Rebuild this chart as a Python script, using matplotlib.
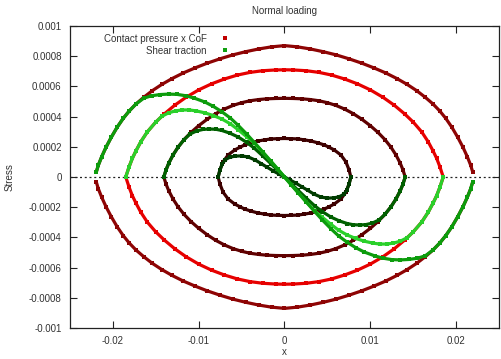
import numpy as np
import matplotlib.pyplot as plt
from matplotlib.lines import Line2D

# Contact pressure x CoF, upper half (x <= 0), mirrored for x > 0 and negative side
p1_x = [-0.00773, -0.00753, -0.00715, -0.00657, -0.0058, -0.0052, -0.00465, -0.0039,
        -0.00311, -0.0023, -0.00158, -0.0008, 0.0]
p1_y = [0.0, 0.000046, 0.000101, 0.000146, 0.000179, 0.000197, 0.000212, 0.000226,
        0.000238, 0.000246, 0.000252, 0.000254, 0.000255]

p2_x = [-0.01407, -0.0138, -0.0135, -0.013, -0.0124, -0.0117, -0.0109, -0.01, -0.009,
        -0.008, -0.007, -0.006, -0.005, -0.004, -0.003, -0.002, -0.001, 0.0]
p2_y = [0.0, 0.000048, 0.00009, 0.000145, 0.000198, 0.000248, 0.000295, 0.00034, 0.000383,
        0.00042, 0.00045, 0.000474, 0.000492, 0.000505, 0.000513, 0.000518, 0.00052, 0.000521]

p3_x = [-0.01849, -0.01811, -0.01773, -0.01734, -0.01676, -0.016, -0.01503, -0.014,
        -0.0128, -0.0115, -0.01, -0.0085, -0.007, -0.0055, -0.004, -0.0025, -0.001, 0.0]
p3_y = [0.000002, 0.000068, 0.000124, 0.00017, 0.000232, 0.000298, 0.000362, 0.000418,
        0.000475, 0.000527, 0.000577, 0.000617, 0.000649, 0.000675, 0.000693, 0.000704,
        0.000709, 0.00071]

p4_x = [-0.02195, -0.0217, -0.0213, -0.0208, -0.0202, -0.0195, -0.0188, -0.0181, -0.0173,
        -0.0164, -0.0154, -0.0143, -0.0131, -0.0118, -0.0104, -0.009, -0.0075, -0.006,
        -0.0045, -0.003, -0.0015, 0.0]
p4_y = [0.00003, 0.000078, 0.000135, 0.000197, 0.000262, 0.00033, 0.000388, 0.000437,
        0.000484, 0.000528, 0.000572, 0.000613, 0.000652, 0.000689, 0.000723, 0.000754,
        0.000783, 0.000809, 0.00083, 0.000848, 0.000862, 0.00087]

# Shear traction, left half (antisymmetric about the origin)
q1_x = [-0.00773, -0.00753, -0.00725, -0.0069, -0.0064, -0.0058, -0.005, -0.0042,
        -0.0034, -0.0027, -0.002, -0.0013, -0.0006, 0.0]
q1_y = [0.0, 0.000046, 0.000088, 0.000115, 0.00013, 0.000138, 0.00014, 0.000132,
        0.000112, 0.000088, 0.000064, 0.00004, 0.000018, 0.0]

q2_x = [-0.01407, -0.0138, -0.0135, -0.013, -0.0124, -0.0117, -0.011, -0.0102, -0.0095,
        -0.0088, -0.008, -0.0073, -0.0064, -0.0054, -0.0044, -0.0035, -0.0025, -0.0016,
        -0.0008, 0.0]
q2_y = [0.0, 0.000048, 0.00009, 0.000145, 0.000198, 0.000248, 0.000285, 0.000306, 0.000315,
        0.000318, 0.000316, 0.000308, 0.000291, 0.000265, 0.000229, 0.00019, 0.000138, 0.000089,
        0.000045, 0.0]

q3_x = [-0.01849, -0.01811, -0.01773, -0.01734, -0.01676, -0.016, -0.01503, -0.0143,
        -0.0135, -0.0127, -0.0119, -0.0111, -0.0103, -0.0093, -0.0083, -0.0073,
        -0.0063, -0.0054, -0.0044, -0.0035, -0.0025, -0.0016, -0.0008, 0.0]
q3_y = [0.000002, 0.000068, 0.000124, 0.00017, 0.000232, 0.000298, 0.000362, 0.000402,
        0.000425, 0.000438, 0.000444, 0.000444, 0.000438, 0.000425, 0.000407, 0.000384,
        0.000352, 0.000313, 0.000266, 0.000224, 0.000163, 0.000105, 0.000053, 0.0]

q4_x = [-0.02195, -0.0217, -0.0213, -0.0208, -0.0202, -0.0195, -0.0188, -0.0181, -0.0173,
        -0.0164, -0.0155, -0.0145, -0.0135, -0.0125, -0.0115, -0.0105, -0.0093, -0.0083,
        -0.0073, -0.0063, -0.0054, -0.0044, -0.0035, -0.0025, -0.0016, -0.0008, 0.0]
q4_y = [0.00003, 0.000078, 0.000135, 0.000197, 0.000262, 0.00033, 0.000388, 0.000437, 0.000484,
        0.000522, 0.000538, 0.000546, 0.000549, 0.000547, 0.000538, 0.000522, 0.000497, 0.000468,
        0.000432, 0.00039, 0.000342, 0.000284, 0.000228, 0.000163, 0.000105, 0.000053, 0.0]

pressure = [(p1_x, p1_y), (p2_x, p2_y), (p3_x, p3_y), (p4_x, p4_y)]
shear = [(q1_x, q1_y), (q2_x, q2_y), (q3_x, q3_y), (q4_x, q4_y)]
red_cols = ['#3e0000', '#600000', '#e60000', '#8e0404']
green_cols = ['#003c00', '#006000', '#2ad02a', '#0c9c0c']

x_ticks = [-0.02, -0.01, 0, 0.01, 0.02]
x_labels = ['-0.02', '-0.01', '0', '0.01', '0.02']
y_ticks = [-0.001, -0.0008, -0.0006, -0.0004, -0.0002, 0, 0.0002, 0.0004, 0.0006, 0.0008, 0.001]
y_labels = ['-0.001', '-0.0008', '-0.0006', '-0.0004', '-0.0002', '0',
            '0.0002', '0.0004', '0.0006', '0.0008', '0.001']

txt = '#333333'
plt.rcParams['font.family'] = ['Liberation Sans', 'DejaVu Sans']
tick_font = ['Liberation Sans Narrow', 'Liberation Sans']

fig = plt.figure(figsize=(5.02, 3.59), dpi=100)
ax = fig.add_axes([70 / 502, 1 - 328 / 359, 429 / 502, 302 / 359])

ax.axhline(0, color='#222222', lw=0.9, ls=(0, (1.6, 2.2)), zorder=1)

sty = dict(lw=2.3, marker='s', ms=2.2, mew=0, solid_capstyle='butt')
for (px, py), c in zip(pressure, red_cols):
    px = np.array(px)
    py = np.array(py)
    xs = np.concatenate([px, -px[::-1][1:]])
    ys = np.concatenate([py, py[::-1][1:]])
    ax.plot(xs, ys, color=c, zorder=2, **sty)
    ax.plot(xs, -ys, color=c, zorder=2, **sty)

for (qx, qy), c in zip(shear, green_cols):
    qx = np.array(qx)
    qy = np.array(qy)
    xs = np.concatenate([qx, -qx[::-1][1:]])
    ys = np.concatenate([qy, -qy[::-1][1:]])
    ax.plot(xs, ys, color=c, zorder=3, **sty)

ax.set_xlim(-0.025, 0.025)
ax.set_ylim(-0.001, 0.001)
ax.set_xticks(x_ticks)
ax.set_xticklabels(x_labels, family=tick_font, fontsize=7, color=txt)
ax.set_yticks(y_ticks)
ax.set_yticklabels(y_labels, family=tick_font, fontsize=7, color=txt)
ax.tick_params(direction='in', length=5, width=0.8, top=True, right=True,
               color='#222222', pad=6)
for s in ax.spines.values():
    s.set_linewidth(0.9)
    s.set_color('#222222')

ax.set_title('Normal loading', fontsize=7, color=txt, pad=9)
ax.set_xlabel('x', fontsize=7, color=txt, va='baseline')
ax.xaxis.set_label_coords(0.5, -0.088)
ax.set_ylabel('Stress', fontsize=7, color=txt)
ax.yaxis.set_label_coords(-0.13, 0.5)

handles = [Line2D([], [], color='#c00000', marker='s', ls='none', ms=3, mew=0),
           Line2D([], [], color='#10a010', marker='s', ls='none', ms=3, mew=0)]
leg = ax.legend(handles, ['Contact pressure x CoF', 'Shear traction'],
                loc='upper right', bbox_to_anchor=(235 / 502, 1 - 29 / 359),
                bbox_transform=fig.transFigure, frameon=False, markerfirst=False,
                fontsize=7, handlelength=1.0, handletextpad=1.4,
                labelspacing=0.2, borderpad=0)
for t in leg.get_texts():
    t.set_color(txt)
    t.set_ha('right')

fig.savefig('out.png', dpi=100)
